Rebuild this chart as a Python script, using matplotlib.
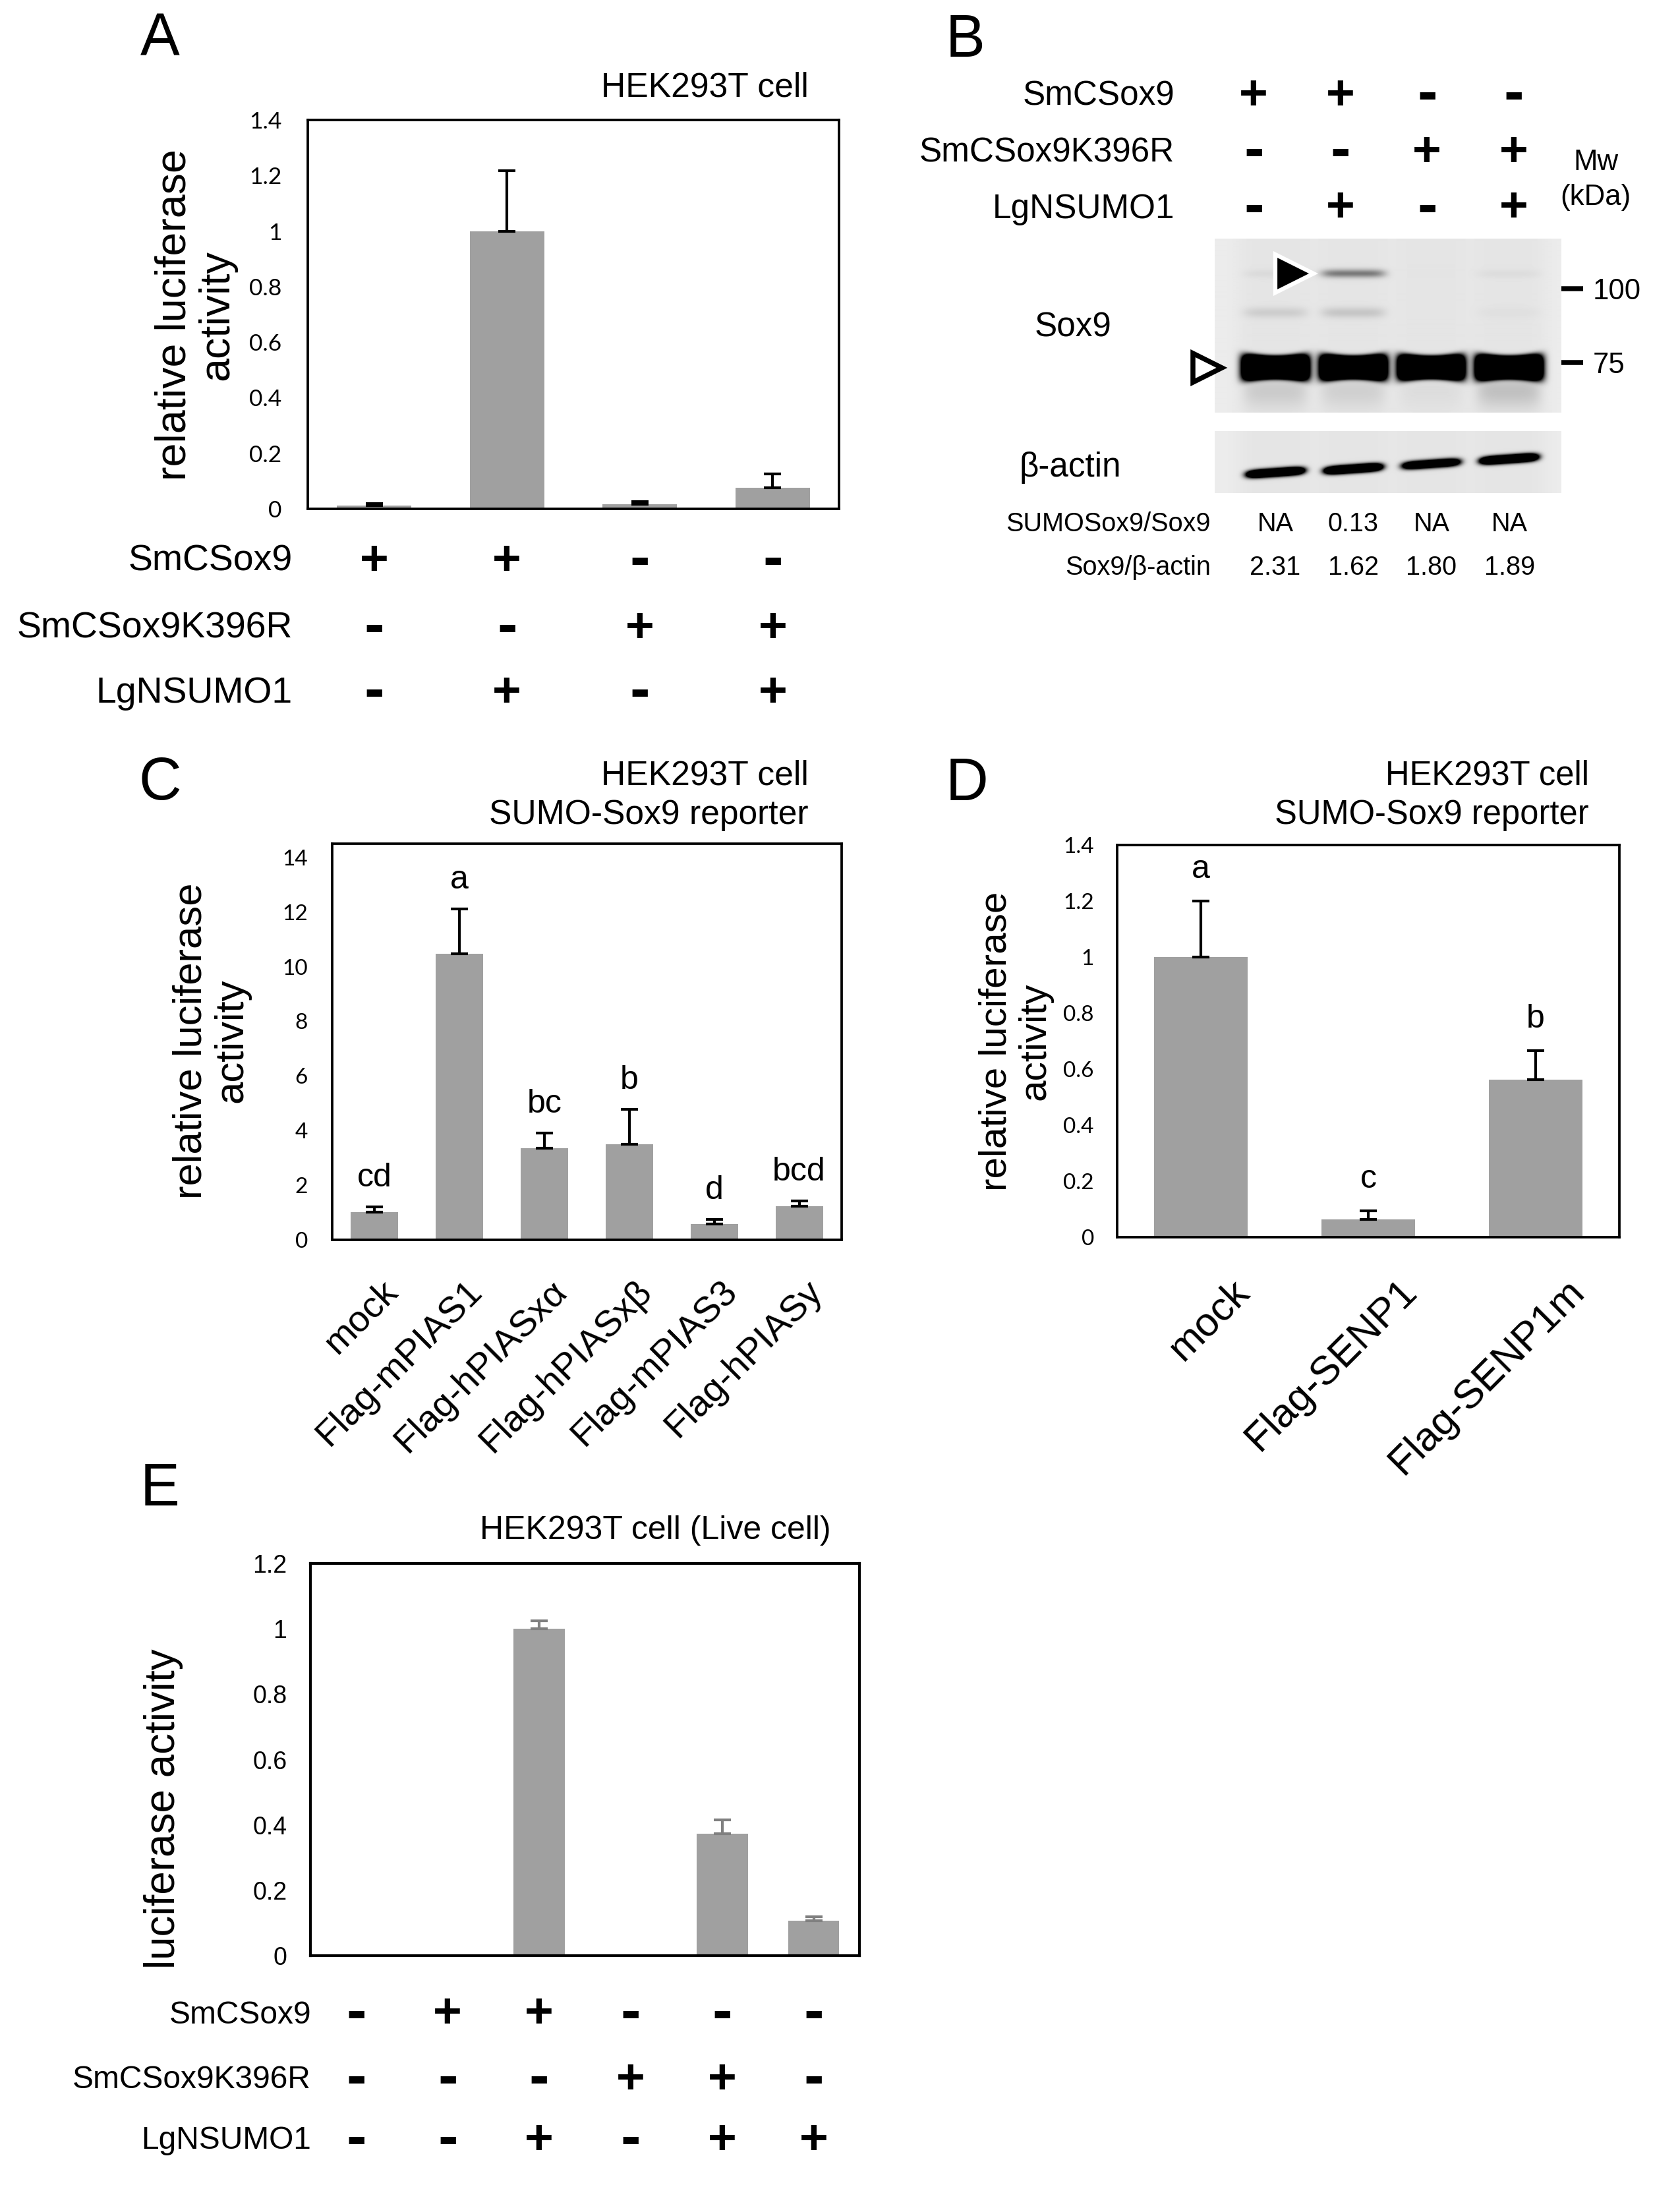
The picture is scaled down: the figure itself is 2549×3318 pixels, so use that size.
import numpy as np
import matplotlib
matplotlib.use('Agg')
import matplotlib.pyplot as plt
from matplotlib import transforms
from matplotlib.ticker import FuncFormatter

W, H, DPI = 2549, 3318, 300
plt.rcParams['font.family'] = ['Liberation Sans', 'DejaVu Sans']

BAR = '#a0a0a0'

# ---------------- data ----------------
rows = ['SmCSox9', 'SmCSox9K396R', 'LgNSUMO1']

# A  luciferase, HEK293T
a_signs = [['+', '+', '-', '-'],
           ['-', '-', '+', '+'],
           ['-', '+', '-', '+']]
a_mean = [0.012, 1.0, 0.017, 0.076]
a_err = [0.007, 0.217, 0.009, 0.05]

# B  western blot
b_signs = [['+', '+', '-', '-'],
           ['-', '-', '+', '+'],
           ['-', '+', '-', '+']]
b_sumo_ratio = ['NA', '0.13', 'NA', 'NA']
b_sox9_actin = ['2.31', '1.62', '1.80', '1.89']
b_marker_kda = [100, 75]
b_sox9_kda, b_minor_kda, b_sumo_kda = 73.5, 91, 106
b_sox9_int = [1.0, 1.0, 0.95, 1.0]
b_smear_int = [0.10, 0.08, 0.03, 0.14]
b_minor_int = [0.09, 0.12, 0.0, 0.02]
b_sumo_int = [0.04, 0.42, 0.0, 0.03]
b_actin_int = [0.95, 1.0, 0.8, 1.0]
b_actin_mig = [0.33, 0.39, 0.47, 0.55]

# C  PIAS
c_names = ['mock', 'Flag-mPIAS1', 'Flag-hPIASxα', 'Flag-hPIASxβ', 'Flag-mPIAS3', 'Flag-hPIASy']
c_mean = [1.01, 10.46, 3.36, 3.5, 0.59, 1.24]
c_err = [0.19, 1.66, 0.55, 1.28, 0.15, 0.18]
c_group = ['cd', 'a', 'bc', 'b', 'd', 'bcd']

# D  SENP1
d_names = ['mock', 'Flag-SENP1', 'Flag-SENP1m']
d_mean = [1.0, 0.063, 0.562]
d_err = [0.2, 0.031, 0.104]
d_group = ['a', 'c', 'b']

# E  live cell
e_signs = [['-', '+', '+', '-', '-', '-'],
           ['-', '-', '-', '+', '+', '-'],
           ['-', '-', '+', '-', '+', '+']]
e_mean = [0.003, 0.003, 1.0, 0.003, 0.374, 0.107]
e_err = [0.0, 0.0, 0.025, 0.0, 0.042, 0.013]


fig = plt.figure(figsize=(W / DPI, H / DPI), dpi=DPI)


def fx(x):
    return x / W


def fy(y):
    return 1 - y / H


def add_ax(l, t, r, b):
    return fig.add_axes([fx(l), fy(b), (r - l) / W, (b - t) / H])


def gfmt(v, pos):
    return f'{round(v, 2):g}'


def bar_panel(box, mean, err, ymax, step, ecolor='black', lw=0.9,
              tick_font='Lato', tick_size=8, pad=8.5):
    ax = add_ax(*box)
    mean = np.asarray(mean)
    err = np.asarray(err)
    x = np.arange(len(mean))
    ax.bar(x, mean, width=0.56, color=BAR, zorder=2)
    k = err > 0
    ax.errorbar(x[k], mean[k], yerr=[np.zeros(k.sum()), err[k]], fmt='none',
                ecolor=ecolor, elinewidth=1.0, capsize=3.2, capthick=1.0, zorder=3)
    ax.set_xlim(-0.5, len(mean) - 0.5)
    ax.set_ylim(0, ymax)
    ax.set_yticks(np.arange(0, ymax + 1e-6, step))
    ax.yaxis.set_major_formatter(FuncFormatter(gfmt))
    ax.set_xticks([])
    ax.tick_params(axis='y', length=0, pad=pad, labelsize=tick_size,
                   labelfontfamily=tick_font)
    for s in ax.spines.values():
        s.set_linewidth(lw)
    return ax


def sign_table(ax, signs, ys, label_right, label_size, xpos=None):
    tr = transforms.blended_transform_factory(ax.transData, fig.transFigure)
    for name, row, y in zip(rows, signs, ys):
        fig.text(fx(label_right), fy(y), name, ha='right', va='center', fontsize=label_size)
        for i, s in enumerate(row):
            xi = i if xpos is None else xpos[i]
            ax.text(xi, fy(y), s, transform=tr, ha='center', va='center',
                    fontweight='bold', fontsize=18 if s == '+' else 22)


def panel_letter(x, y, s):
    fig.text(fx(x), fy(y), s, ha='center', va='center', fontsize=21.5)


# ---------------- A ----------------
panel_letter(243, 60, 'A')
ax_a = bar_panel((467, 182, 1273, 772), a_mean, a_err, 1.4, 0.2, tick_size=8.5, pad=9.5)
fig.text(fx(1227), fy(133), 'HEK293T cell', ha='right', va='center', fontsize=12.4)
fig.text(fx(297), fy(478), 'relative luciferase\nactivity', rotation=90, ha='center',
         va='center', fontsize=15.5, linespacing=1.1, multialignment='center')
sign_table(ax_a, a_signs, [852, 954, 1052], 444, 13.3)

# ---------------- B ----------------
panel_letter(1465, 63, 'B')
ylo, yhi = 1.7903, 2.0849
lx = np.linspace(-0.45, 3.55, 526)
band_x = 1.5 + (np.arange(4) - 1.5) * 0.9 + 0.1

ax_b = add_ax(1843, 362, 2369, 626)
X, Y = np.meshgrid(lx, np.linspace(ylo, yhi, 264))
img = np.full(X.shape, 0.075)
for i, c in enumerate(band_x):
    dx = (X - c) / 0.37
    across = np.exp(-dx ** 6)
    img += 0.03 * np.exp(-((X - c) / 0.45) ** 4)
    sig = 0.0175 * (1 + 0.3 * dx ** 2)
    img += 4 * b_sox9_int[i] * across * np.exp(-((Y - np.log10(b_sox9_kda)) / sig) ** 4)
    img += b_smear_int[i] * across * np.exp(-((Y - np.log10(b_sox9_kda) + 0.04) / 0.028) ** 2)
    img += b_minor_int[i] * across * np.exp(-((Y - np.log10(b_minor_kda)) / 0.009) ** 2)
    img += b_sumo_int[i] * across * np.exp(-((Y - np.log10(b_sumo_kda)) / 0.007) ** 2)
ax_b.imshow(np.clip(img, 0, 1), cmap='gray_r', vmin=0, vmax=1, origin='lower',
            extent=(-0.45, 3.55, ylo, yhi), aspect='auto', interpolation='bilinear')
ax_b.set_xlim(-0.45, 3.55)
ax_b.set_ylim(ylo, yhi)
ax_b.set_xticks([])
ax_b.set_yticks(np.log10(b_marker_kda))
ax_b.set_yticklabels([str(m) for m in b_marker_kda])
ax_b.yaxis.tick_right()
ax_b.tick_params(axis='y', length=8, width=1.8, pad=3.5, labelsize=10.5)
for s in ax_b.spines.values():
    s.set_visible(False)
# arrowheads: SUMO-Sox9 (filled) and Sox9 (open)
ax_b.plot(band_x[1] - 0.68, np.log10(b_sumo_kda), marker='>', ms=14, mfc='black',
          mec='white', mew=1.5, clip_on=False, zorder=5)
ax_b.plot(-0.53, np.log10(b_sox9_kda), marker='>', ms=10.5, mfc='white', mec='black',
          mew=1.8, clip_on=False, zorder=5)

ax_act = add_ax(1843, 654, 2369, 748)
X2, Y2 = np.meshgrid(lx, np.linspace(0, 1, 94))
img2 = np.full(X2.shape, 0.075)
for i, c in enumerate(band_x):
    dx = (X2 - c) / 0.33
    across = np.exp(-dx ** 6)
    img2 += 0.03 * np.exp(-((X2 - c) / 0.45) ** 4)
    yc = b_actin_mig[i] + 0.1 * (X2 - c)
    img2 += 3 * b_actin_int[i] * across * np.exp(-((Y2 - yc) / 0.06) ** 2)
ax_act.imshow(np.clip(img2, 0, 1), cmap='gray_r', vmin=0, vmax=1, origin='lower',
              extent=(-0.45, 3.55, 0, 1), aspect='auto', interpolation='bilinear')
ax_act.set_xlim(-0.45, 3.55)
ax_act.set_ylim(0, 1)
ax_act.axis('off')

sign_table(ax_b, b_signs, [146, 232, 317], 1782, 12.3)
fig.text(fx(2421), fy(247), 'Mw', ha='center', va='center', fontsize=10.5)
fig.text(fx(2421), fy(299), '(kDa)', ha='center', va='center', fontsize=10.5)
fig.text(fx(1628), fy(497), 'Sox9', ha='center', va='center', fontsize=12.3)
fig.text(fx(1624), fy(709), 'β-actin', ha='center', va='center', fontsize=12.3)

tr_b = transforms.blended_transform_factory(ax_b.transData, fig.transFigure)
for name, vals, y in [('SUMOSox9/Sox9', b_sumo_ratio, 795), ('Sox9/β-actin', b_sox9_actin, 861)]:
    fig.text(fx(1837), fy(y), name, ha='right', va='center', fontsize=9.5)
    for c, v in zip(band_x, vals):
        ax_b.text(c, fy(y), v, transform=tr_b, ha='center', va='center', fontsize=9.5)

# ---------------- C ----------------
panel_letter(243, 1190, 'C')
ax_c = bar_panel((504, 1280, 1277, 1881), c_mean, c_err, 14.5, 2, pad=8.9)
fig.text(fx(1227), fy(1177), 'HEK293T cell', ha='right', va='center', fontsize=12.4)
fig.text(fx(1227), fy(1236), 'SUMO-Sox9 reporter', ha='right', va='center', fontsize=12.4)
fig.text(fx(321), fy(1579), 'relative luciferase\nactivity', rotation=90, ha='center',
         va='center', fontsize=14.8, linespacing=1.1, multialignment='center')
ax_c.set_xticks(np.arange(len(c_names)))
ax_c.set_xticklabels(c_names, rotation=45, ha='right', va='top', rotation_mode='anchor',
                     fontsize=13.4)
ax_c.tick_params(axis='x', length=0, pad=12.5)
off = transforms.ScaledTranslation(8 / DPI, 0, fig.dpi_scale_trans)
for lab in ax_c.get_xticklabels():
    lab.set_transform(lab.get_transform() + off)
for i, (m, e, g) in enumerate(zip(c_mean, c_err, c_group)):
    ax_c.annotate(g, (i, m + e), xytext=(0, 5), textcoords='offset points',
                  ha='center', va='bottom', fontsize=12)

# ---------------- D ----------------
panel_letter(1467, 1191, 'D')
ax_d = bar_panel((1695, 1282, 2457, 1877), d_mean, d_err, 1.4, 0.2, pad=8.4)
fig.text(fx(2411), fy(1177), 'HEK293T cell', ha='right', va='center', fontsize=12.2)
fig.text(fx(2411), fy(1236), 'SUMO-Sox9 reporter', ha='right', va='center', fontsize=12.2)
fig.text(fx(1541), fy(1580), 'relative luciferase\nactivity', rotation=90, ha='center',
         va='center', fontsize=14, linespacing=1.1, multialignment='center')
ax_d.set_xticks(np.arange(len(d_names)))
ax_d.set_xticklabels(d_names, rotation=45, ha='right', va='top', rotation_mode='anchor',
                     fontsize=14.7)
ax_d.tick_params(axis='x', length=0, pad=13)
off = transforms.ScaledTranslation(45 / DPI, 0, fig.dpi_scale_trans)
for lab in ax_d.get_xticklabels():
    lab.set_transform(lab.get_transform() + off)
for i, (m, e, g) in enumerate(zip(d_mean, d_err, d_group)):
    ax_d.annotate(g, (i, m + e), xytext=(0, 6), textcoords='offset points',
                  ha='center', va='bottom', fontsize=12)

# ---------------- E ----------------
panel_letter(243, 2261, 'E')
ax_e = bar_panel((471, 2372, 1304, 2967), e_mean, e_err, 1.2, 0.2, ecolor='#808080',
                 lw=1.0, tick_font='Liberation Sans', tick_size=9, pad=8.6)
fig.text(fx(1261), fy(2322), 'HEK293T cell (Live cell)', ha='right', va='center', fontsize=12)
fig.text(fx(248), fy(2744), 'luciferase activity', rotation=90, ha='center',
         va='center', fontsize=15.3)
sign_table(ax_e, e_signs, [3057, 3156, 3248], 472, 11.5)

fig.savefig('out.png', dpi=DPI)
